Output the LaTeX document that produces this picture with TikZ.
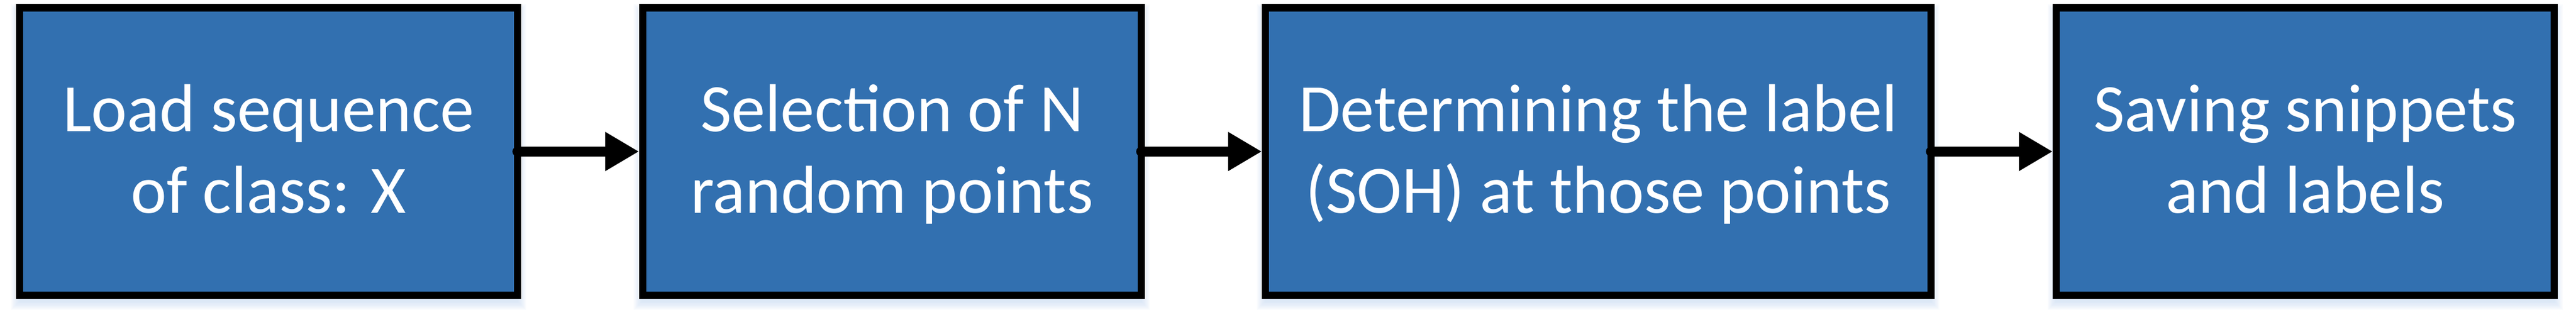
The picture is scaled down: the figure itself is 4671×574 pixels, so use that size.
\documentclass[tikz,border=0pt]{standalone}
\usepackage{fontspec}
\setmainfont{Carlito}
\usetikzlibrary{arrows.meta,backgrounds}
\definecolor{boxblue}{HTML}{3270B0}
\definecolor{glow}{HTML}{BDD3EE}
\newcommand\tstr{\rule{0pt}{10.97pt}}
\newcommand\bstr{\rule[-3.5pt]{0pt}{3.5pt}}
\begin{document}
\begin{tikzpicture}[x=0.1pt,y=0.1pt,
  stepbox/.style={draw=black, line width=1.33pt, fill=boxblue, text=white,
    minimum height=52.17pt, outer sep=0pt, inner sep=0pt, align=center,
    font=\fontsize{12.3}{14.77}\selectfont},
  flow/.style={line width=1.83pt, line cap=round,
    -{Triangle[length=6.13pt,width=6.67pt]}, shorten >=0.665pt}]
\useasboundingbox (0,0) rectangle (4671,-574);
\node[stepbox, minimum width=90.27pt]  (b1) at (487,-274.8)    {\tstr Load sequence\\of class: X\bstr};
\node[stepbox, minimum width=90.40pt]  (b2) at (1617.3,-274.8) {\tstr Selection of N\\random points\bstr};
\node[stepbox, minimum width=120.67pt] (b3) at (2898,-274.8)   {\tstr Determining the label\\(SOH) at those points\bstr};
\node[stepbox, minimum width=90.27pt]  (b4) at (4180,-274.8)   {\tstr Saving snippets\\and labels\bstr};
\begin{scope}[on background layer]
  \foreach \b in {b1,b2,b3,b4}{
    \foreach \k in {2,4,...,16}{
      \fill[glow, fill opacity=0.09]
        ([shift={(-\k,-10-\k)}]\b.south west) rectangle ([shift={(\k,-10+\k)}]\b.north east);
    }
  }
\end{scope}
\draw[flow] (b1.east) -- (b2.west);
\draw[flow] (b2.east) -- (b3.west);
\draw[flow] (b3.east) -- (b4.west);
\end{tikzpicture}
\end{document}
